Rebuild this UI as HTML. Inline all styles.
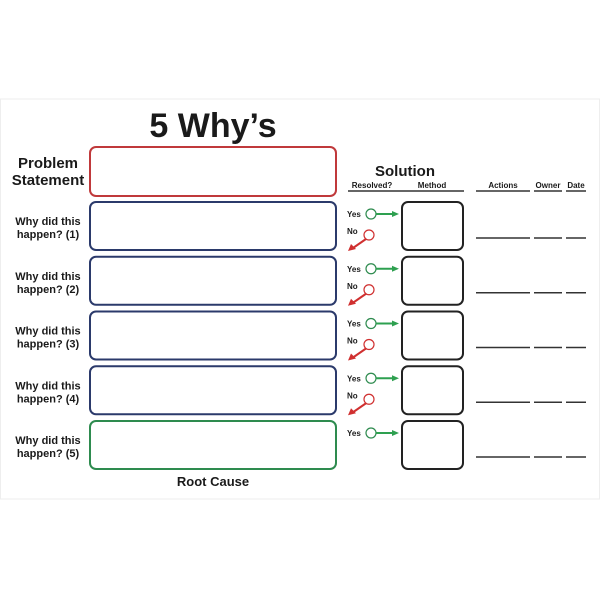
<!DOCTYPE html>
<html><head><style>
body{margin:0;background:#fff}
svg{display:block}
text{font-family:"Liberation Sans",sans-serif;font-weight:bold;fill:#1a1a1a}
</style></head><body>
<svg width="600" height="600" viewBox="0 0 600 600">
<rect x="0" y="0" width="600" height="600" fill="#fff"/>
<rect x="0.5" y="99" width="599" height="400" fill="#fff" stroke="#eee" stroke-width="1"/>
<text x="213" y="137" font-size="34" text-anchor="middle">5 Why’s</text>
<text x="48" y="168" font-size="15" text-anchor="middle">Problem</text>
<text x="48" y="185" font-size="15" text-anchor="middle">Statement</text>
<rect x="90" y="147" width="246" height="49" rx="6" fill="none" stroke="#c0393b" stroke-width="2"/>
<g id="rows"></g>
<text x="405" y="176" font-size="15" text-anchor="middle">Solution</text>
<g font-size="8">
<text x="372" y="188" font-size="8" text-anchor="middle">Resolved?</text>
<text x="432" y="188" font-size="8" text-anchor="middle">Method</text>
<text x="503" y="188" font-size="8" text-anchor="middle">Actions</text>
<text x="548" y="188" font-size="8" text-anchor="middle">Owner</text>
<text x="576" y="188" font-size="8" text-anchor="middle">Date</text>
</g>
<g stroke="#333" stroke-width="1.5">
<line x1="348" y1="191" x2="464" y2="191"/>
<line x1="476" y1="191" x2="530" y2="191"/>
<line x1="534" y1="191" x2="562" y2="191"/>
<line x1="566" y1="191" x2="586" y2="191"/>
</g>
<text x="213" y="486" font-size="13" text-anchor="middle">Root Cause</text>
</svg>
<script>
var g=document.getElementById('rows'),h='';
for(var i=0;i<5;i++){
 var y=202+i*54.75,c=i==4?'#2e8b4f':'#2b3a6b';
 h+='<text x="48" y="'+(y+23)+'" font-size="11" text-anchor="middle">Why did this</text>';
 h+='<text x="48" y="'+(y+36)+'" font-size="11" text-anchor="middle">happen? ('+(i+1)+')</text>';
 h+='<rect x="90" y="'+y+'" width="246" height="48" rx="6" fill="none" stroke="'+c+'" stroke-width="2"/>';
 h+='<rect x="402" y="'+y+'" width="61" height="48" rx="6" fill="none" stroke="#222" stroke-width="2"/>';
 h+='<text x="347" y="'+(y+15)+'" font-size="8">Yes</text>';
 h+='<circle cx="371" cy="'+(y+12)+'" r="5" fill="#fff" stroke="#2e8b4f" stroke-width="1.2"/>';
 h+='<line x1="376" y1="'+(y+12)+'" x2="393" y2="'+(y+12)+'" stroke="#2ea050" stroke-width="2"/>';
 h+='<polygon points="392,'+(y+9)+' 399,'+(y+12)+' 392,'+(y+15)+'" fill="#2ea050"/>';
 h+='<line x1="476" y1="'+(y+36)+'" x2="530" y2="'+(y+36)+'" stroke="#333" stroke-width="1.5"/>';
 h+='<line x1="534" y1="'+(y+36)+'" x2="562" y2="'+(y+36)+'" stroke="#333" stroke-width="1.5"/>';
 h+='<line x1="566" y1="'+(y+36)+'" x2="586" y2="'+(y+36)+'" stroke="#333" stroke-width="1.5"/>';
 if(i<4){
  h+='<text x="347" y="'+(y+32)+'" font-size="8">No</text>';
  h+='<line x1="366" y1="'+(y+37)+'" x2="353" y2="'+(y+46)+'" stroke="#d03030" stroke-width="2"/>';
  h+='<polygon points="348,'+(y+49)+' 351,'+(y+42)+' 356,'+(y+47)+'" fill="#d03030"/>';
  h+='<circle cx="369" cy="'+(y+33)+'" r="5" fill="#fff" stroke="#d03030" stroke-width="1.2"/>';
 }
}
g.innerHTML=h;
</script>
</body></html>
